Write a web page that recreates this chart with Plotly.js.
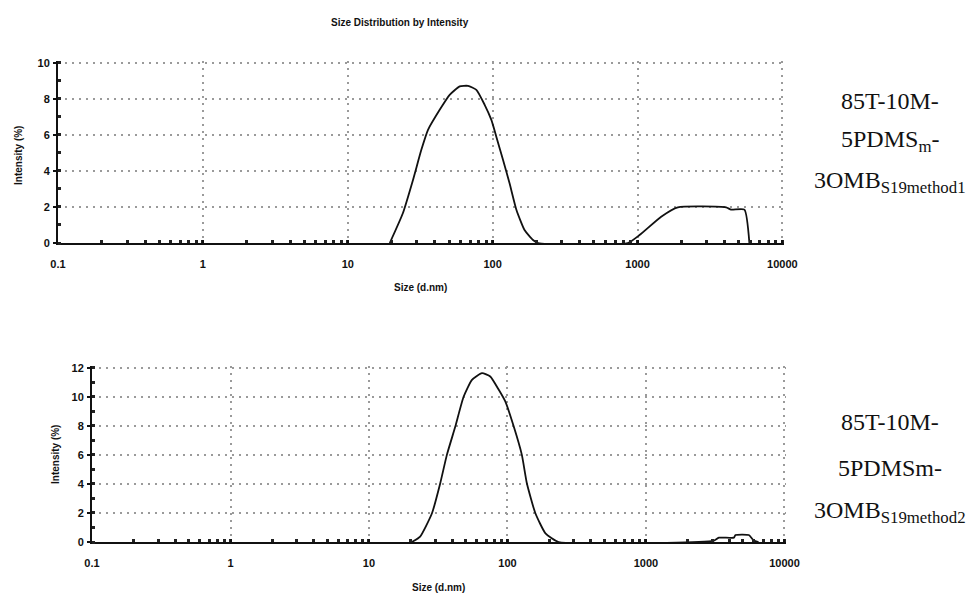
<!DOCTYPE html>
<html><head><meta charset="utf-8">
<script src="https://cdn.plot.ly/plotly-3.0.1.min.js"></script>
<style>html,body{margin:0;padding:0;background:#fff;}#chart{width:971px;height:593px;}</style>
</head><body><div id="chart"></div>
<script>
// ---- data ----
const sizeTop = [19.5, 24.0, 28.2, 32.2, 35.8, 43.1, 50.5, 59.2, 67.6, 77.2, 88.1, 98, 106, 118, 131, 146, 166, 190, 206,
                 857, 1032, 1456, 1897, 4085, 4426, 5467, 5917];
const intensityTop = [0, 1.65, 3.5, 5.17, 6.28, 7.39, 8.22, 8.69, 8.72, 8.5, 7.67, 6.83, 5.9, 4.6, 3.3, 1.83, 0.72, 0.17, 0,
                      0, 0.44, 1.46, 1.98, 1.98, 1.85, 1.85, 0];
const sizeBottom = [20.4, 23.4, 28.5, 32.7, 36.5, 42.0, 48.2, 55.4, 65.4, 75.1, 86.3, 96.4, 111, 127, 138, 159, 188, 234,
                    2406, 3090, 3360, 4310, 4430, 5525, 6000, 6500];
const intensityBottom = [0, 0.37, 1.98, 4.05, 6.0, 7.95, 10.0, 11.17, 11.63, 11.4, 10.5, 9.68, 7.95, 6.0, 4.05, 1.98, 0.6, 0,
                         0, 0.1, 0.3, 0.3, 0.48, 0.48, 0.1, 0];
const xTickVals = [0.1, 1, 10, 100, 1000, 10000];
const xTickText = ['0.1', '1', '10', '100', '1000', '10000'];
const yTickTop = [0, 2, 4, 6, 8, 10];
const yTickBottom = [0, 2, 4, 6, 8, 10, 12];
const chartTitle = 'Size Distribution by Intensity';
const xTitle = 'Size (d.nm)';
const yTitle = 'Intensity (%)';
const labelTop = ['85T-10M-', '5PDMS<sub>m</sub>-', '3OMB<sub>S19method1</sub>'];
const labelBottom = ['85T-10M-', '5PDMSm-', '3OMB<sub>S19method2</sub>'];

// ---- layout helpers ----
const W = 971, H = 593;
const px = x => x / W;
const py = y => 1 - y / H;
const tickFont = {family: 'Liberation Sans, Arial, sans-serif', size: 11, color: '#111', weight: 'bold'};
const serif = {family: 'Liberation Serif, Times New Roman, serif', size: 24, color: '#111'};

function xAxis(l, r, anchor) {
  return {
    type: 'log', range: [-1, 4.011], domain: [px(l), px(r)], anchor: anchor,
    tickmode: 'array', tickvals: xTickVals, ticktext: xTickText,
    showline: true, linecolor: '#111', linewidth: 2,
    ticks: 'inside', ticklen: 3, tickwidth: 2, tickcolor: '#111',
    ticklabelstandoff: 10, tickfont: tickFont,
    showgrid: true, gridcolor: '#9a9a9a', gridwidth: 2, griddash: '2px,5px',
    minor: {dtick: 'D1', ticks: 'inside', ticklen: 3, tickwidth: 3, tickcolor: '#222', showgrid: false},
    zeroline: false, fixedrange: true
  };
}
function yAxis(t, b, maxv, vals, anchor) {
  return {
    range: [0, maxv], domain: [py(b), py(t)], anchor: anchor,
    tickmode: 'array', tickvals: vals,
    showline: true, linecolor: '#111', linewidth: 2,
    ticks: 'outside', ticklen: 3, tickwidth: 2, tickcolor: '#111',
    ticklabelstandoff: 1, tickfont: tickFont,
    showgrid: true, gridcolor: '#9a9a9a', gridwidth: 2, griddash: '2px,5px',
    minor: {dtick: 1, ticks: 'inside', ticklen: 3, tickwidth: 3, tickcolor: '#222', showgrid: false},
    zeroline: false, fixedrange: true
  };
}

const traces = [
  {x: sizeTop, y: intensityTop, xaxis: 'x', yaxis: 'y', mode: 'lines',
   line: {color: '#111', width: 1.8, shape: 'spline', smoothing: 0.5}, hoverinfo: 'skip', showlegend: false},
  {x: sizeBottom, y: intensityBottom, xaxis: 'x2', yaxis: 'y2', mode: 'lines',
   line: {color: '#111', width: 1.8, shape: 'spline', smoothing: 0.5}, hoverinfo: 'skip', showlegend: false}
];

const ann = [];
function txt(text, x, y, font, extra) {
  ann.push(Object.assign({text: text, x: px(x), y: py(y), xref: 'paper', yref: 'paper',
    xanchor: 'center', yanchor: 'middle', showarrow: false, font: font}, extra || {}));
}
const smallBold = {family: 'Liberation Sans, Arial, sans-serif', size: 10, color: '#111', weight: 'bold'};
txt(chartTitle, 400, 23, smallBold);
txt(xTitle, 420, 288, smallBold);
txt(xTitle, 438, 587, smallBold);
txt(yTitle, 18, 156, smallBold, {textangle: -90});
txt(yTitle, 55, 455, smallBold, {textangle: -90});
const topY = [101, 141, 182];
const botY = [422, 468, 512];
labelTop.forEach((t, i) => txt(t, 890, topY[i], serif));
labelBottom.forEach((t, i) => txt(t, 890, botY[i], serif));

const layout = {
  width: W, height: H, margin: {l: 0, r: 0, t: 0, b: 0},
  paper_bgcolor: '#fff', plot_bgcolor: '#fff', showlegend: false,
  xaxis: xAxis(58, 784, 'y'),
  yaxis: yAxis(61, 243, 10.1, yTickTop, 'x'),
  xaxis2: xAxis(92, 786, 'y2'),
  yaxis2: yAxis(366, 542, 12.12, yTickBottom, 'x2'),
  annotations: ann
};
Plotly.newPlot('chart', traces, layout, {staticPlot: true, displayModeBar: false});
</script>
</body></html>
